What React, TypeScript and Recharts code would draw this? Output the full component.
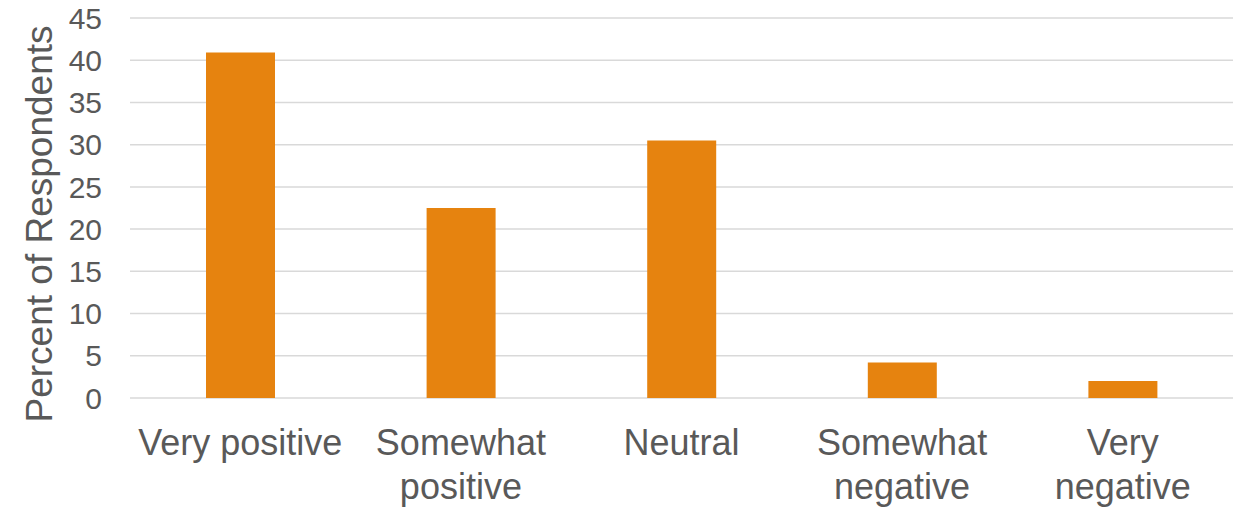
import { BarChart, Bar, CartesianGrid, XAxis, YAxis, Label } from 'recharts'

const categories = ['Very positive', 'Somewhat positive', 'Neutral', 'Somewhat negative', 'Very negative']
const tickLines = [
  ['Very positive'],
  ['Somewhat', 'positive'],
  ['Neutral'],
  ['Somewhat', 'negative'],
  ['Very', 'negative'],
]
const percents = [40.9, 22.5, 30.5, 4.2, 2.0]
const yTicks = [0, 5, 10, 15, 20, 25, 30, 35, 40, 45]

const data = categories.map((name, i) => ({ name, value: percents[i] }))

const TEXT = '#595959'
const FONT = '"Liberation Sans", Arial, sans-serif'

function CategoryTick(props: any) {
  const { x, y, index } = props
  const lines = tickLines[index] || [props.payload.value]
  return (
    <text x={x} y={y} textAnchor="middle" fill={TEXT} fontSize={36} fontFamily={FONT}>
      {lines.map((line: string, i: number) => (
        <tspan key={i} x={x} y={y + 57 + i * 44}>
          {line}
        </tspan>
      ))}
    </text>
  )
}

function YLabel(props: any) {
  const vb = props.viewBox
  const cx = vb.x + 52
  const cy = vb.y + vb.height / 2 + 16
  return (
    <text
      x={cx}
      y={cy}
      transform={`rotate(-90, ${cx}, ${cy})`}
      textAnchor="middle"
      fill={TEXT}
      fontSize={37}
      fontFamily={FONT}
    >
      Percent of Respondents
    </text>
  )
}

export default function App() {
  return (
    <div style={{ position: 'absolute', left: 0, top: 0, background: '#fff' }}>
      <BarChart
        width={1234}
        height={508}
        data={data}
        margin={{ top: 18, right: 1, left: 0, bottom: 0 }}
      >
        <CartesianGrid vertical={false} stroke="#d9d9d9" strokeWidth={1.5} />
        <XAxis
          dataKey="name"
          height={110}
          axisLine={false}
          tickLine={false}
          tickSize={0}
          tickMargin={0}
          interval={0}
          tick={<CategoryTick />}
        />
        <YAxis
          width={130}
          domain={[0, 45]}
          ticks={yTicks}
          axisLine={false}
          tickLine={false}
          tickSize={0}
          tickMargin={28}
          tick={{ fill: TEXT, fontSize: 30, fontFamily: FONT }}
        >
          <Label content={<YLabel />} />
        </YAxis>
        <Bar dataKey="value" fill="#e6830f" barSize={69} isAnimationActive={false} />
      </BarChart>
    </div>
  )
}
